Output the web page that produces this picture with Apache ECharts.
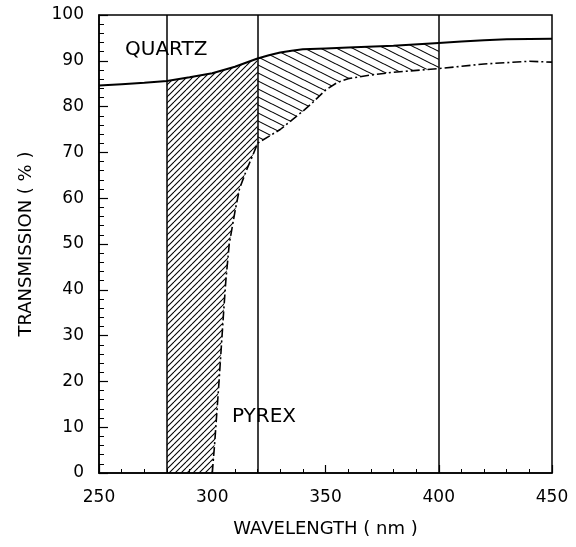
<!DOCTYPE html>
<html>
<head>
<meta charset="utf-8">
<style>
html,body{margin:0;padding:0;background:#fff;}
#chart{width:576px;height:547px;}
</style>
<script src="https://cdn.jsdelivr.net/npm/echarts@6/dist/echarts.min.js"></script>
</head>
<body>
<div id="chart"></div>
<script>
// quartz transmission (solid line)
var quartzWl = [250, 260, 270, 280, 290, 300, 310, 320, 325, 330, 335, 340, 350, 360, 380, 400, 410, 420, 430, 450];
var quartzT  = [84.6, 84.9, 85.2, 85.6, 86.4, 87.3, 88.7, 90.5, 91.2, 91.8, 92.2, 92.5, 92.7, 92.9, 93.3, 93.9, 94.2, 94.5, 94.7, 94.8];
// pyrex transmission (dash-dot line)
var pyrexWl = [300, 301, 302, 303, 304, 305, 306, 307.5, 310, 312, 315, 318, 320, 325, 330, 335, 340, 345, 350, 355, 360, 370, 380, 400, 420, 440, 450];
var pyrexT  = [0, 6, 13, 20, 27.5, 35, 42, 50, 57, 62, 66, 69.5, 72, 73.5, 75, 77, 79, 81.2, 83.6, 85.2, 86.1, 86.9, 87.5, 88.3, 89.3, 89.9, 89.7];
// vertical reference lines
var refLines = [280, 320, 400];
// hatched bands
var bandA = [280, 320];
var bandB = [320, 400];

var FONT = 'DejaVu Sans';

function hatch(w, h, up, lw) {
    var c = document.createElement('canvas');
    c.width = w; c.height = h;
    var ctx = c.getContext('2d');
    ctx.strokeStyle = '#000';
    ctx.lineWidth = lw;
    for (var n = -1; n <= 1; n++) {
        ctx.beginPath();
        if (up) {
            ctx.moveTo(0, h + n * h); ctx.lineTo(w, n * h);
        } else {
            ctx.moveTo(0, n * h); ctx.lineTo(w, h + n * h);
        }
        ctx.stroke();
    }
    return {image: c, repeat: 'repeat'};
}

function pts(wl, t, lo, hi) {
    var out = [];
    for (var i = 0; i < wl.length; i++) {
        if (wl[i] >= lo && wl[i] <= hi) out.push([wl[i], t[i]]);
    }
    return out;
}

// polygon: quartz on top, pyrex (or axis) underneath
function band(range, withFloor) {
    var top = pts(quartzWl, quartzT, range[0], range[1]);
    var bot = pts(pyrexWl, pyrexT, range[0], range[1]).reverse();
    var poly = [];
    if (withFloor) poly.push([range[0], 0]);
    return poly.concat(top, bot);
}

var polyA = band(bandA, true);
var polyB = band(bandB, false);

function polySeries(poly, fill) {
    return {
        type: 'custom',
        silent: true,
        data: poly,
        encode: {x: 0, y: 1},
        renderItem: function (params, api) {
            if (params.dataIndex !== 0) return;
            var p = poly.map(function (d) { return api.coord(d); });
            return {
                type: 'polygon',
                shape: {points: p},
                style: {fill: fill, stroke: null}
            };
        },
        z: 1
    };
}

var chart = echarts.init(document.getElementById('chart'));

var option = {
    animation: false,
    backgroundColor: '#fff',
    grid: {
        left: 99, right: 24, top: 15, bottom: 74,
        show: true, borderColor: '#000', borderWidth: 1.5, backgroundColor: 'transparent'
    },
    xAxis: {
        type: 'value', min: 250, max: 450, interval: 50,
        name: 'WAVELENGTH ( nm )', nameLocation: 'middle', nameGap: 47,
        nameTextStyle: {fontFamily: FONT, fontSize: 18, color: '#000'},
        axisLine: {lineStyle: {color: '#000', width: 1.5}},
        axisTick: {inside: true, length: 8, lineStyle: {color: '#000', width: 1.2}},
        minorTick: {show: true, splitNumber: 5, length: 4, lineStyle: {color: '#000', width: 1}},
        axisLabel: {fontFamily: FONT, fontSize: 17, color: '#000', margin: 16},
        splitLine: {show: false}
    },
    yAxis: {
        type: 'value', min: 0, max: 100, interval: 10,
        name: 'TRANSMISSION ( % )', nameLocation: 'middle', nameGap: 64, nameRotate: 90,
        nameTextStyle: {fontFamily: FONT, fontSize: 18, color: '#000'},
        axisLine: {lineStyle: {color: '#000', width: 1.5}},
        axisTick: {inside: true, length: 9, lineStyle: {color: '#000', width: 1.2}},
        minorTick: {show: true, splitNumber: 5, length: 5, lineStyle: {color: '#000', width: 1}},
        axisLabel: {fontFamily: FONT, fontSize: 17, color: '#000', margin: 15},
        splitLine: {show: false}
    },
    graphic: [
        {type: 'text', x: 125, y: 50, z: 10,
         style: {text: 'QUARTZ', fontFamily: FONT, fontSize: 20, fill: '#000', verticalAlign: 'middle'}},
        {type: 'text', x: 232, y: 417, z: 10,
         style: {text: 'PYREX', fontFamily: FONT, fontSize: 20, fill: '#000', verticalAlign: 'middle'}}
    ],
    series: [
        polySeries(polyA, hatch(6, 6, true, 1.1)),
        polySeries(polyB, hatch(16, 8, false, 1.1)),
        {
            name: 'Quartz', type: 'line', symbol: 'none', z: 3,
            data: quartzWl.map(function (w, i) { return [w, quartzT[i]]; }),
            lineStyle: {color: '#000', width: 2},
            markLine: {
                symbol: 'none', silent: true,
                label: {show: false},
                lineStyle: {color: '#000', type: 'solid', width: 1.5},
                data: refLines.map(function (v) { return {xAxis: v}; })
            }
        },
        {
            name: 'Pyrex', type: 'line', symbol: 'none', z: 3,
            data: pyrexWl.map(function (w, i) { return [w, pyrexT[i]]; }),
            lineStyle: {color: '#000', width: 1.6, type: [9, 3, 2, 3]}
        }
    ]
};
chart.setOption(option);
</script>
</body>
</html>
